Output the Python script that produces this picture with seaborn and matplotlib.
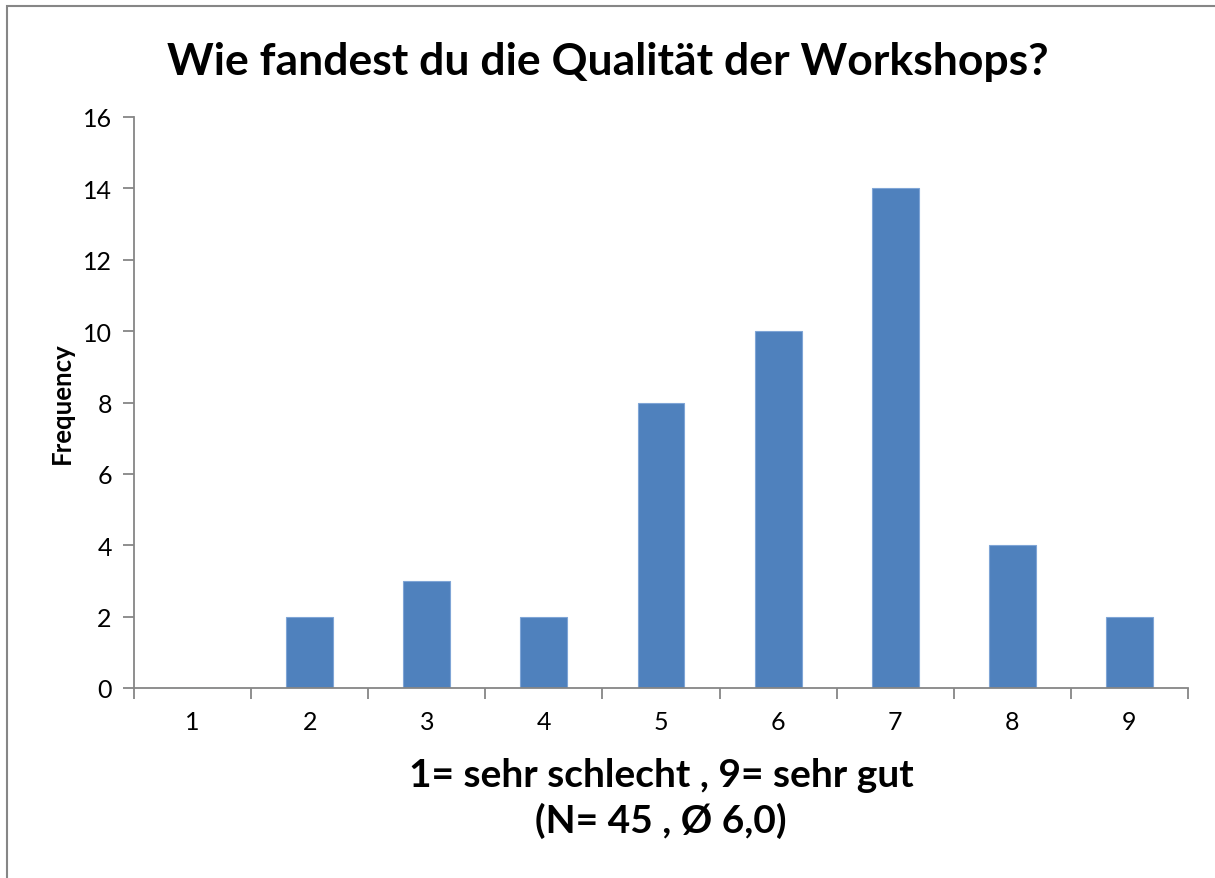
import matplotlib
matplotlib.use("Agg")
import matplotlib.pyplot as plt
import seaborn as sns
import pandas as pd
from matplotlib.patches import Rectangle

categories = ["1", "2", "3", "4", "5", "6", "7", "8", "9"]
frequency = [0, 2, 3, 2, 8, 10, 14, 4, 2]
title = "Wie fandest du die Qualität der Workshops?"
xlabel = "1= sehr schlecht , 9= sehr gut\n(N= 45 , Ø 6,0)"
ylabel = "Frequency"
yticks = [0, 2, 4, 6, 8, 10, 12, 14, 16]

sns.set_theme(style="white")
plt.rcParams['font.family'] = ['Lato', 'DejaVu Sans']
plt.rcParams['text.color'] = 'black'
plt.rcParams['axes.labelcolor'] = 'black'

df = pd.DataFrame({"cat": categories, "freq": frequency})

fig = plt.figure(figsize=(12.15, 8.79), dpi=100)
ax = fig.add_axes([134/1215, 1-689/879, (1188-134)/1215, (689-118)/879])

sns.barplot(data=df, x="cat", y="freq", ax=ax, color="#4F81BD", saturation=1,
            width=0.4, edgecolor="#7FA5D6", linewidth=0.8)

grey = "#868686"
ax.set_ylim(0, 16)
ax.set_xlim(-0.5, len(categories) - 0.5)
ax.set_yticks(yticks)
ax.set_yticklabels([str(v) for v in yticks], fontsize=18)
for s in ["top", "right"]:
    ax.spines[s].set_visible(False)
for s in ["left", "bottom"]:
    ax.spines[s].set_color(grey)
    ax.spines[s].set_linewidth(1.3)

ax.set_xticks([i - 0.5 for i in range(len(categories) + 1)])
ax.set_xticklabels([])
ax.set_xticks(range(len(categories)), minor=True)
ax.set_xticklabels(categories, minor=True, fontsize=18)
ax.tick_params(axis="x", which="major", direction="out", length=8, width=1.3, color=grey, bottom=True)
ax.tick_params(axis="x", which="minor", length=0, pad=16, labelcolor="black")
ax.tick_params(axis="y", direction="out", length=8, width=1.3, color=grey, left=True,
               pad=8, labelcolor="black")

ax.set_xlabel(xlabel, fontsize=28, fontweight="bold", labelpad=17, linespacing=1.33, color="black")
ax.set_ylabel(ylabel, fontsize=18.5, fontweight="bold", color="black", va="center")
ax.yaxis.set_label_coords((62 - 134) / 1054, 0.5)
fig.text(608/1215, 1 - 62/879, title, ha="center", va="center", fontsize=32, fontweight="bold", color="black")

fig.patches.append(Rectangle((7/1215, -0.1), 1.2, 1 - 7/879 + 0.1, transform=fig.transFigure,
                             fill=False, edgecolor=grey, linewidth=1.5, zorder=0))

fig.savefig("out.png", dpi=100)
